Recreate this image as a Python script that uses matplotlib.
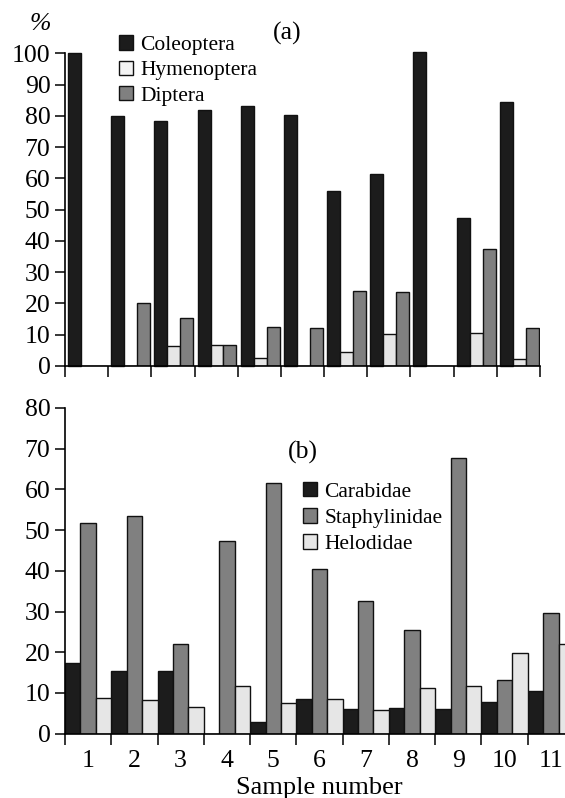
import numpy as np
import matplotlib.pyplot as plt
from matplotlib.patches import Patch

plt.rcParams['font.family'] = ['Liberation Serif', 'DejaVu Serif']

samples = [str(i) for i in range(1, 12)]

# panel (a), %
coleoptera = [100, 80, 78.3, 82, 83, 80.2, 56, 61.5, 100.4, 47.3, 84.3]
hymenoptera = [0, 0, 6.4, 6.7, 2.6, 0, 4.5, 10.2, 0, 10.5, 2.3]
diptera = [0, 20, 15.3, 6.7, 12.5, 12.1, 24, 23.6, 0, 37.4, 12.1]

# panel (b)
carabidae = [17.3, 15.4, 15.4, 0, 2.8, 8.5, 6.0, 6.2, 6.1, 7.8, 10.6]
staphylinidae = [51.8, 53.5, 22.0, 47.3, 61.5, 40.5, 32.7, 25.5, 67.7, 13.3, 29.7]
helodidae = [8.7, 8.3, 6.6, 11.7, 7.6, 8.5, 5.8, 11.3, 11.7, 19.7, 22.1]

black = '#1c1c1c'
gray = '#808080'
light = '#e6e6e6'
edge = '#111111'

fig = plt.figure(figsize=(5.65, 7.98), dpi=100)
W, H = 565, 798

def px_axes(x0, y_top, x1, y_bot):
    return fig.add_axes([x0 / W, 1 - y_bot / H, (x1 - x0) / W, (y_bot - y_top) / H])

def style(ax, ymax, step):
    for s in ['top', 'right']:
        ax.spines[s].set_visible(False)
    ax.spines['left'].set_linewidth(1.2)
    ax.spines['bottom'].set_linewidth(1.2)
    ax.set_ylim(0, ymax)
    ax.set_xlim(0, 11)
    ax.set_yticks(np.arange(0, ymax + 1, step))
    ax.set_xticks(np.arange(0, 12))
    ax.set_xticklabels([])
    ax.tick_params(axis='y', direction='out', length=7.5, width=1.1, pad=3, labelsize=18.5)
    ax.tick_params(axis='x', which='major', direction='out', length=8, width=1.1)

x = np.arange(11)

# ---- (a)
ax1 = px_axes(65, 53.3, 540, 366)
style(ax1, 100, 10)
w = 0.30
ax1.bar(x + 0.07, coleoptera, w, align='edge', color=black, edgecolor=edge, lw=1, clip_on=False)
ax1.bar(x + 0.07 + w, hymenoptera, w, align='edge', color=light, edgecolor=edge, lw=1)
ax1.bar(x + 0.07 + 2 * w, diptera, w, align='edge', color=gray, edgecolor=edge, lw=1)
ax1.text(40 / W, 1 - 24 / H, '%', transform=fig.transFigure, fontsize=18.5, style='italic',
         ha='center', va='center')
ax1.text(287 / W, 1 - 33 / H, '(a)', transform=fig.transFigure, fontsize=18.5,
         ha='center', va='center')
h1 = [Patch(facecolor=black, edgecolor=edge, label='Coleoptera'),
      Patch(facecolor='#f4f4f4', edgecolor=edge, label='Hymenoptera'),
      Patch(facecolor=gray, edgecolor=edge, label='Diptera')]
fig.legend(handles=h1, loc='upper left', bbox_to_anchor=(119 / W, 1 - 35.5 / H), frameon=False,
           fontsize=15.5, handlelength=0.65, handleheight=0.65, handletextpad=0.35,
           labelspacing=0.25, borderpad=0, borderaxespad=0)

# ---- (b)
ax2 = px_axes(65, 408, 574, 733.7)
style(ax2, 80, 10)
wb = 1 / 3
ax2.bar(x, carabidae, wb, align='edge', color=black, edgecolor=edge, lw=1)
ax2.bar(x + wb, staphylinidae, wb, align='edge', color=gray, edgecolor=edge, lw=1)
ax2.bar(x + 2 * wb, helodidae, wb, align='edge', color=light, edgecolor=edge, lw=1)
ax2.set_xticks(x + 0.5, minor=True)
ax2.set_xticklabels(samples, minor=True)
ax2.tick_params(axis='x', which='minor', length=0, pad=12, labelsize=18.5)
ax2.set_xlabel('Sample number', fontsize=19, labelpad=3)
ax2.text(303 / W, 1 - 452 / H, '(b)', transform=fig.transFigure, fontsize=18.5,
         ha='center', va='center')
h2 = [Patch(facecolor=black, edgecolor=edge, label='Carabidae'),
      Patch(facecolor=gray, edgecolor=edge, label='Staphylinidae'),
      Patch(facecolor=light, edgecolor=edge, label='Helodidae')]
fig.legend(handles=h2, loc='upper left', bbox_to_anchor=(303 / W, 1 - 482 / H), frameon=False,
           fontsize=15.5, handlelength=0.65, handleheight=0.65, handletextpad=0.35,
           labelspacing=0.3, borderpad=0, borderaxespad=0)

fig.savefig('out.png', dpi=100)
